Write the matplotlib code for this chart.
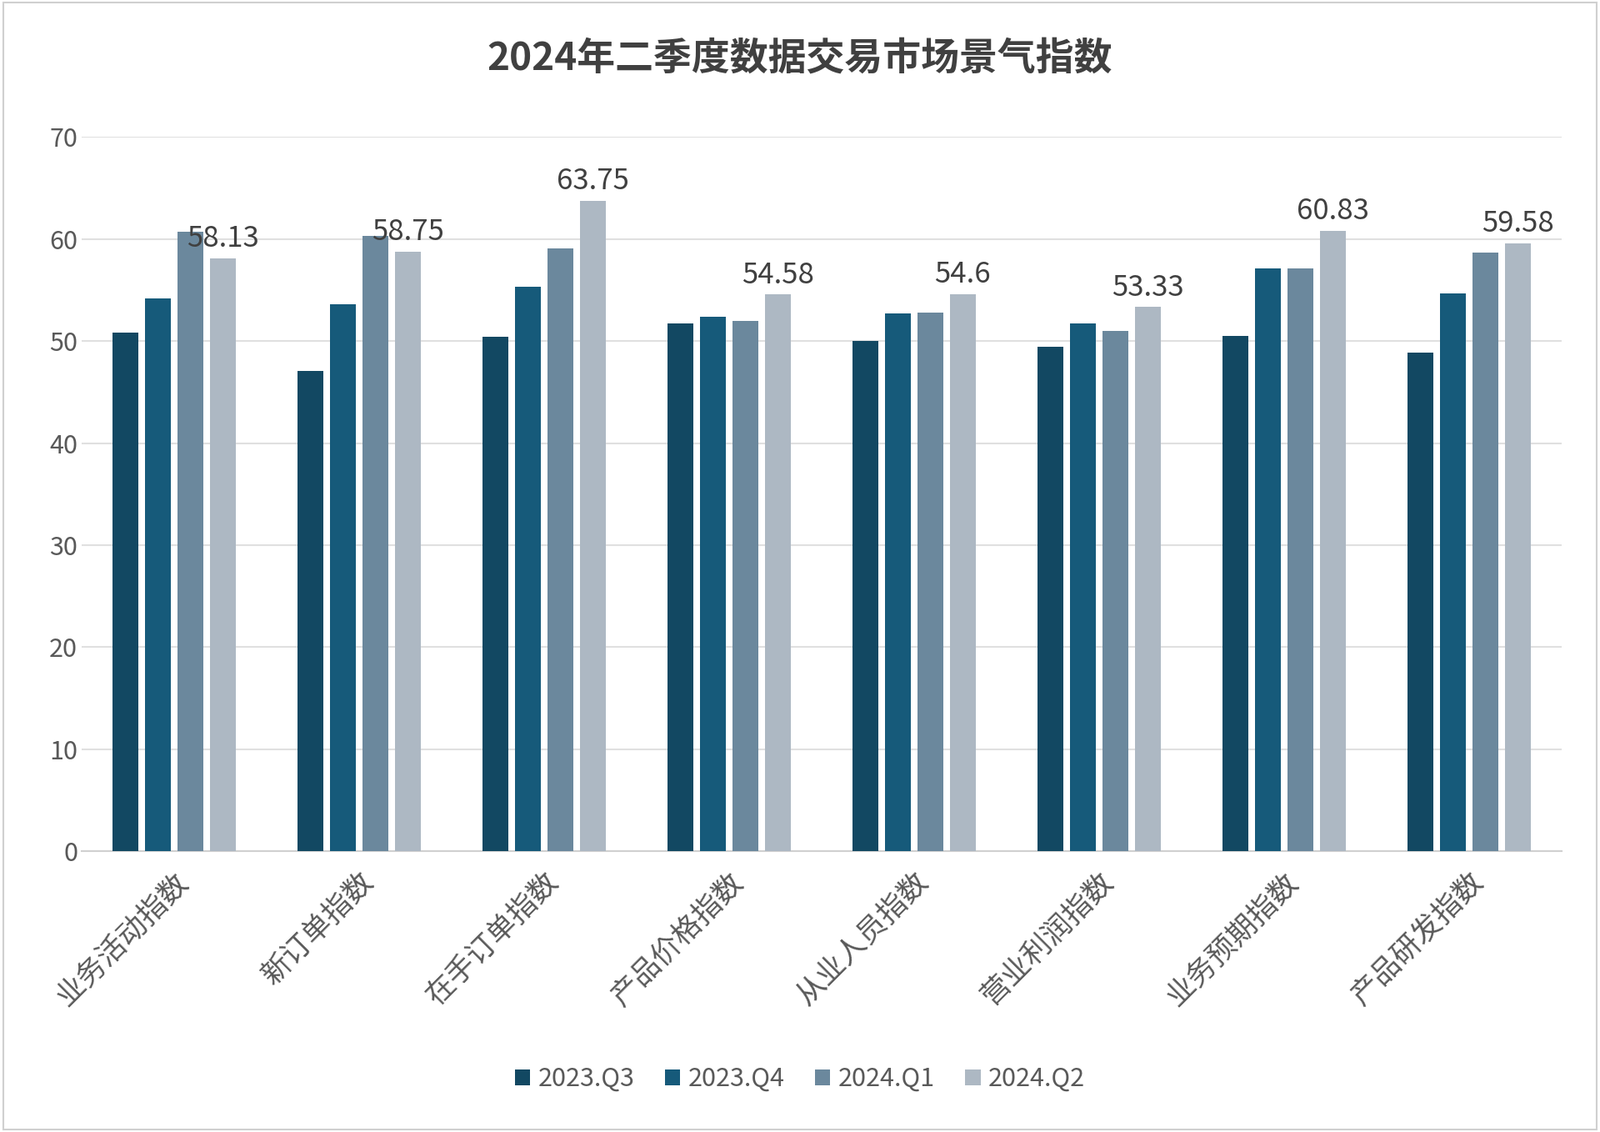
import matplotlib.pyplot as plt
from matplotlib import font_manager
import numpy as np

cjk = [f.name for f in font_manager.fontManager.ttflist if 'CJK' in f.name]
plt.rcParams['font.family'] = 'sans-serif'
plt.rcParams['font.sans-serif'] = (['Noto Sans CJK SC'] + cjk + ['DejaVu Sans'])

categories = ['业务活动指数', '新订单指数', '在手订单指数', '产品价格指数',
              '从业人员指数', '营业利润指数', '业务预期指数', '产品研发指数']
series = ['2023.Q3', '2023.Q4', '2024.Q1', '2024.Q2']
q3_2023 = [50.8, 47.1, 50.4, 51.7, 50.0, 49.4, 50.5, 48.9]
q4_2023 = [54.2, 53.6, 55.3, 52.4, 52.7, 51.7, 57.1, 54.7]
q1_2024 = [60.7, 60.3, 59.1, 52.0, 52.8, 51.0, 57.1, 58.7]
q2_2024 = [58.13, 58.75, 63.75, 54.58, 54.6, 53.33, 60.83, 59.58]
colors = ['#124862', '#165a7a', '#6b889d', '#adb8c3']

fig = plt.figure(figsize=(19.2, 13.58), dpi=100)
ax = fig.add_axes([0.051, 0.248, 0.925, 0.631])
fig.patches.append(plt.Rectangle((0.002, 0.002), 0.996, 0.996, transform=fig.transFigure,
                                 fill=False, edgecolor='#d0d0d0', linewidth=1.5))

x = np.arange(len(categories))
slot = 0.175
width = 0.14
for i, (name, vals) in enumerate(zip(series, [q3_2023, q4_2023, q1_2024, q2_2024])):
    bars = ax.bar(x + (i - 1.5) * slot, vals, width, color=colors[i], label=name, zorder=3)
    if i == 3:
        ax.bar_label(bars, labels=[f'{v:g}' for v in vals], padding=4, fontsize=25, color='#404040')

ax.set_ylim(0, 70)
ax.set_xlim(-0.5, len(categories) - 0.5)
ax.set_yticks(range(0, 71, 10))
ax.yaxis.grid(True, color='#e0e0e0', linewidth=1.5, zorder=0)
for s in ['top', 'right', 'left']:
    ax.spines[s].set_visible(False)
ax.spines['bottom'].set_color('#d0d0d0')
ax.spines['bottom'].set_linewidth(1.5)
ax.tick_params(axis='both', length=0, labelsize=22, colors='#595959')
ax.tick_params(axis='x', pad=14)
ax.set_xticks(x)
ax.set_xticklabels(categories, rotation=45, ha='right', rotation_mode='anchor', fontsize=25)

fig.suptitle('2024年二季度数据交易市场景气指数', fontsize=33, fontweight='bold',
             color='#404040', y=0.965)
fig.legend(loc='lower center', ncol=4, frameon=False, fontsize=22, bbox_to_anchor=(0.5, 0.015),
           handlelength=0.6, handleheight=0.6, columnspacing=1.2, handletextpad=0.3,
           labelcolor='#595959')

plt.savefig('out.png')
